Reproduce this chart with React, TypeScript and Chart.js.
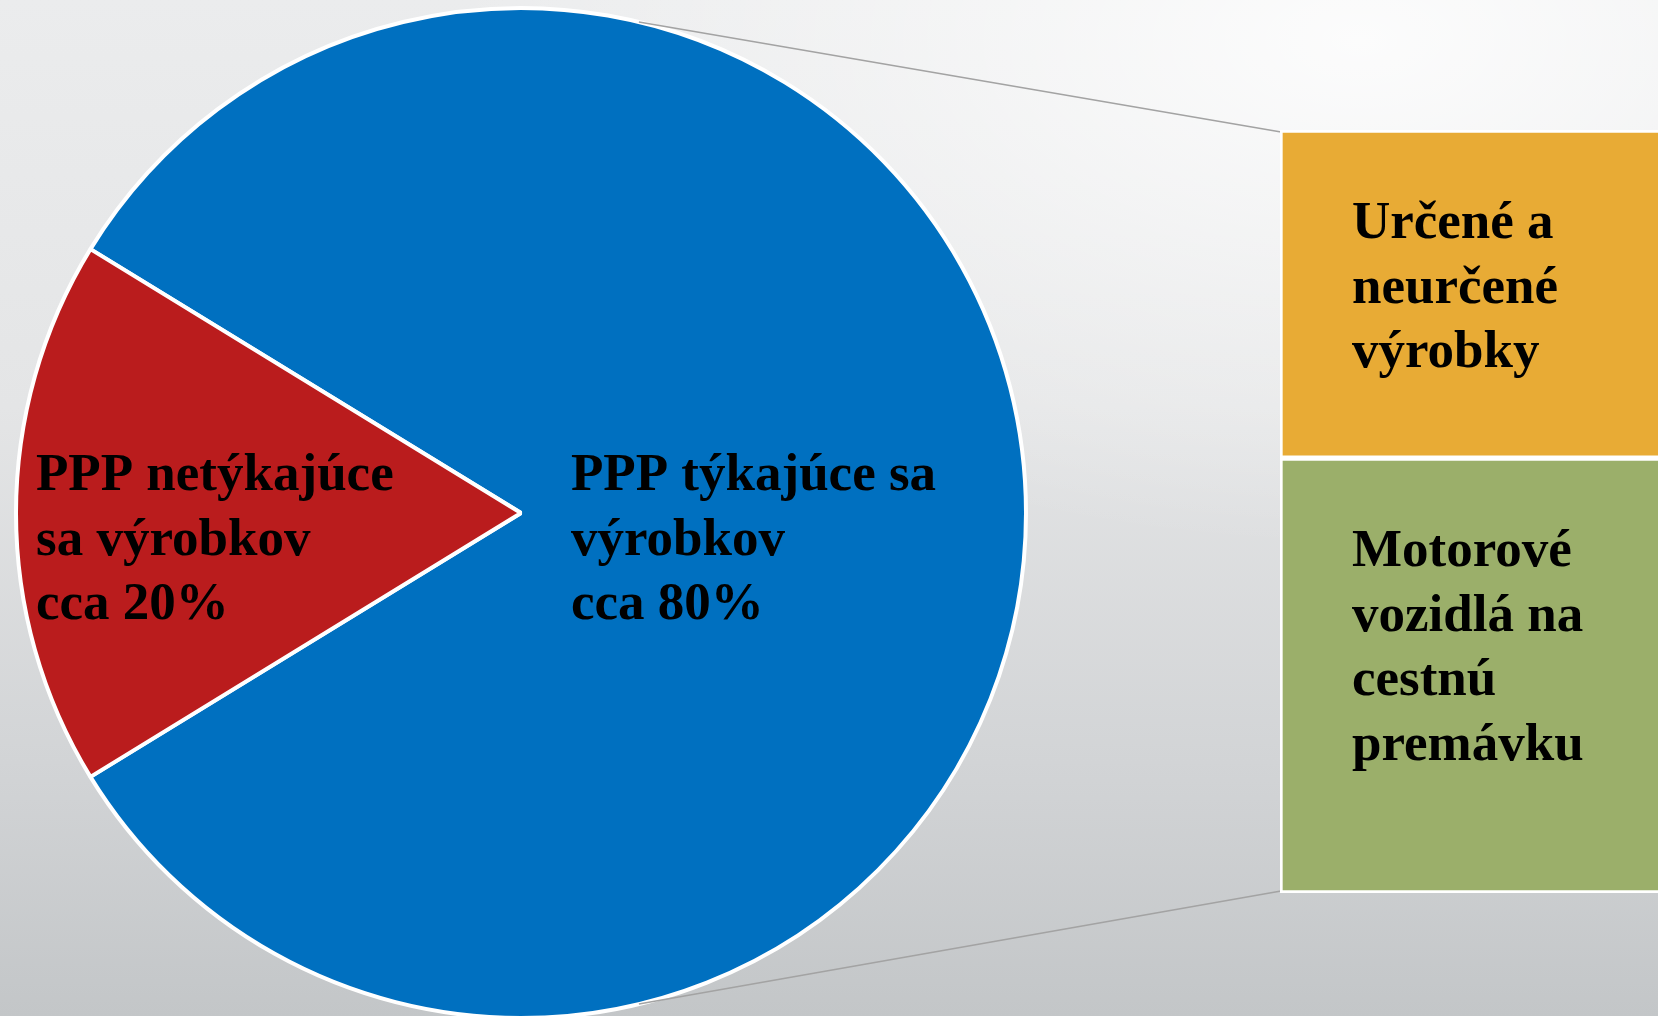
import React, { useEffect, useRef } from "react";
import { Chart, registerables } from "chart.js";
Chart.register(...registerables);

// ---- Data ----
const pieCategories = ["PPP týkajúce sa výrobkov", "PPP netýkajúce sa výrobkov"];
const pieValues = [82.5, 17.5];
const pieColors = ["#0070C0", "#BA1C1D"];
const pieLabelLines = [
  ["PPP týkajúce sa", "výrobkov", "cca 80%"],
  ["PPP netýkajúce", "sa výrobkov", "cca 20%"],
];

const barCategories = ["Motorové vozidlá na cestnú premávku", "Určené a neurčené výrobky"];
const barValues = [57, 43];
const barColors = ["#9BAF6A", "#E8AB35"];
const barLabelLines = [
  ["Motorové", "vozidlá na", "cestnú", "premávku"],
  ["Určené a", "neurčené", "výrobky"],
];

const FONT = 'bold 53px "Liberation Serif", "Times New Roman", serif';
const LINE_H = 64.5;
const CONNECT_ANGLE = 13.5; // degrees from vertical where connector lines leave the pie

export default function App() {
  const pieRef = useRef<HTMLCanvasElement | null>(null);
  const barRef = useRef<HTMLCanvasElement | null>(null);

  useEffect(() => {
    if (!pieRef.current || !barRef.current) return;
    const total = pieValues.reduce((a, b) => a + b, 0);
    // centre the second slice on the left (270deg clockwise from top)
    const rotation = 270 - ((pieValues[0] + pieValues[1] / 2) / total) * 360;

    const pieLabelPlugin = {
      id: "pieLabels",
      afterDatasetsDraw(chart: any) {
        const meta = chart.getDatasetMeta(0);
        const ctx = chart.ctx;
        ctx.save();
        ctx.font = FONT;
        ctx.fillStyle = "#000";
        ctx.textBaseline = "alphabetic";
        ctx.textAlign = "left";
        meta.data.forEach((arc: any, i: number) => {
          const { x, y, outerRadius } = arc.getProps(["x", "y", "outerRadius"], true);
          const tx = i === 0 ? x + 50 : x - outerRadius + 20;
          const ty0 = y - 23;
          pieLabelLines[i].forEach((l, k) => ctx.fillText(l, tx, ty0 + k * LINE_H));
        });
        ctx.restore();
      },
    };

    const pieChart = new Chart(pieRef.current, {
      type: "pie",
      data: {
        labels: pieCategories,
        datasets: [
          {
            data: pieValues,
            backgroundColor: pieColors,
            borderColor: "#ffffff",
            borderWidth: 4,
            clip: false as any,
          },
        ],
      },
      options: {
        responsive: false,
        animation: false,
        rotation,
        radius: 505,
        layout: { padding: { left: 0, right: 1658 - 1042, top: 10, bottom: 0 } },
        plugins: { legend: { display: false }, tooltip: { enabled: false } },
        events: [],
      } as any,
      plugins: [pieLabelPlugin],
    });

    const connectorPlugin = {
      id: "connectors",
      beforeDatasetsDraw(chart: any) {
        const arc: any = pieChart.getDatasetMeta(0).data[0];
        const { x: cx, y: cy, outerRadius: r } = arc.getProps(["x", "y", "outerRadius"], true);
        const a = (CONNECT_ANGLE * Math.PI) / 180;
        const bottomBar: any = chart.getDatasetMeta(0).data[0];
        const topBar: any = chart.getDatasetMeta(1).data[0];
        const left = topBar.x - topBar.width / 2;
        const topY = Math.min(topBar.y, topBar.base) + 2;
        const botY = Math.max(bottomBar.y, bottomBar.base) - 2;
        const ctx = chart.ctx;
        ctx.save();
        ctx.strokeStyle = "#A3A3A3";
        ctx.lineWidth = 1.5;
        ctx.beginPath();
        ctx.moveTo(cx + r * Math.sin(a), cy - r * Math.cos(a));
        ctx.lineTo(left + 1, topY);
        ctx.moveTo(cx + r * Math.sin(a), cy + r * Math.cos(a));
        ctx.lineTo(left + 1, botY);
        ctx.stroke();
        ctx.restore();
      },
    };

    const barLabelPlugin = {
      id: "barLabels",
      afterDatasetsDraw(chart: any) {
        const ctx = chart.ctx;
        ctx.save();
        ctx.font = FONT;
        ctx.fillStyle = "#000";
        ctx.textBaseline = "alphabetic";
        ctx.textAlign = "left";
        barLabelLines.forEach((lines, i) => {
          const bar: any = chart.getDatasetMeta(i).data[0];
          const top = Math.min(bar.y, bar.base);
          const left = bar.x - bar.width / 2;
          lines.forEach((l, k) => ctx.fillText(l, left + 72, top + 108 + k * LINE_H));
        });
        ctx.restore();
      },
    };

    const barChart = new Chart(barRef.current, {
      type: "bar",
      data: {
        labels: [""],
        datasets: barValues.map((v, i) => ({
          label: barCategories[i],
          data: [v],
          backgroundColor: barColors[i],
          borderColor: "#ffffff",
          borderWidth: 3,
          borderSkipped: false,
          barPercentage: 1,
          categoryPercentage: 1,
        })),
      },
      options: {
        responsive: false,
        animation: false,
        layout: { padding: { left: 1280, right: 0, top: 130, bottom: 1016 - 893 } },
        scales: {
          x: { stacked: true, display: false },
          y: { stacked: true, display: false, min: 0, max: 100 },
        },
        plugins: { legend: { display: false }, tooltip: { enabled: false } },
        events: [],
      } as any,
      plugins: [connectorPlugin, barLabelPlugin],
    });

    return () => {
      barChart.destroy();
      pieChart.destroy();
    };
  }, []);

  return (
    <div
      style={{
        position: "fixed",
        left: 0,
        top: 0,
        width: 1658,
        height: 1016,
        overflow: "hidden",
        background:
          "radial-gradient(ellipse 55% 50% at 82% 4%, rgba(255,255,255,0.85) 0%, rgba(255,255,255,0) 100%), linear-gradient(180deg, #ebeced 0%, #e4e5e6 40%, #d2d4d6 75%, #c3c6c8 100%)",
      }}
    >
      <canvas
        ref={pieRef}
        width={1658}
        height={1016}
        style={{ position: "absolute", left: 0, top: 0, width: 1658, height: 1016 }}
      />
      <canvas
        ref={barRef}
        width={1720}
        height={1016}
        style={{ position: "absolute", left: 0, top: 0, width: 1720, height: 1016 }}
      />
    </div>
  );
}
